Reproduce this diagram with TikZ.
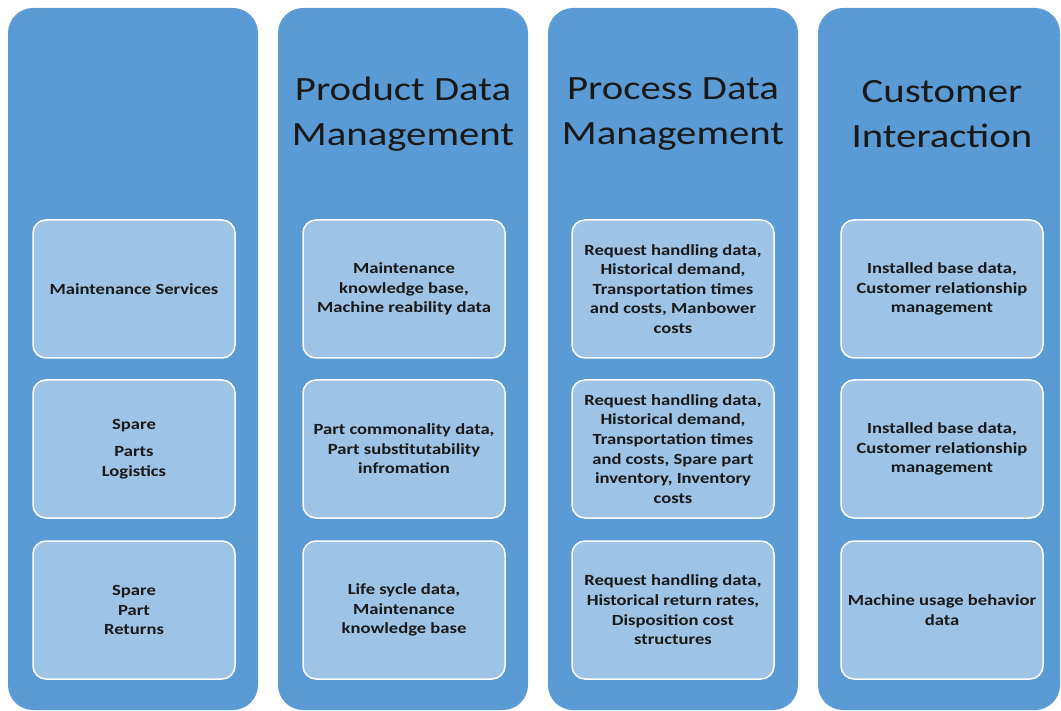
\documentclass[tikz,border=0pt]{standalone}
\usepackage{fontspec}
\setmainfont{Carlito}[FakeStretch=1.2]
\usetikzlibrary{positioning}
\definecolor{colblue}{HTML}{5B9BD5}
\definecolor{cellblue}{HTML}{9DC3E6}
\tikzset{
  column/.style={fill=colblue, draw=none, rounded corners=25pt, minimum width=250pt, minimum height=702pt, inner sep=0pt},
  cell/.style={fill=cellblue, draw=white, line width=1.5pt, rounded corners=13pt, minimum width=202pt, minimum height=138pt, inner sep=0pt, align=center, font=\fontsize{15.5}{19.6}\selectfont\bfseries, text=black!90},
  heading/.style={align=center, font=\fontsize{34}{45}\selectfont, text=black!90}
}
\begin{document}
\begin{tikzpicture}[x=1pt,y=-1pt]
    \useasboundingbox (0,0) rectangle (1061,711);
    \node[column] (C1) at (133,359) {};
    \node[column] (C2) at (403,359) {};
    \node[column] (C3) at (673,359) {};
    \node[column, minimum width=242pt] (C4) at (939,359) {};
    \node[heading] (H2) at (403,114) {Product Data\\Management};
    \node[heading] (H3) at (673,114) {Process Data\\Management};
    \node[heading] (H4) at (942,114) {Customer\\Interaction};
    \node[cell] (M1) at (134,289) {Maintenance Services};
    \node[cell] (M2) at (134,449) {Spare\\[8pt]Parts\\Logistics};
    \node[cell] (M3) at (134,610) {Spare\\Part\\Returns};
    \node[cell] (P1) at (404,289) {Maintenance\\knowledge base,\\Machine reability data};
    \node[cell] (P2) at (404,449) {Part commonality data,\\Part substitutability\\infromation};
    \node[cell] (P3) at (404,610) {Life sycle data,\\Maintenance\\knowledge base};
    \node[cell] (R1) at (673,289) {Request handling data,\\Historical demand,\\Transportation times\\and costs, Manbower\\costs};
    \node[cell] (R2) at (673,449) {Request handling data,\\Historical demand,\\Transportation times\\and costs, Spare part\\inventory, Inventory\\costs};
    \node[cell] (R3) at (673,610) {Request handling data,\\Historical return rates,\\Disposition cost\\structures};
    \node[cell] (I1) at (942,289) {Installed base data,\\Customer relationship\\management};
    \node[cell] (I2) at (942,449) {Installed base data,\\Customer relationship\\management};
    \node[cell] (I3) at (942,610) {Machine usage behavior\\data};
\end{tikzpicture}
\end{document}
